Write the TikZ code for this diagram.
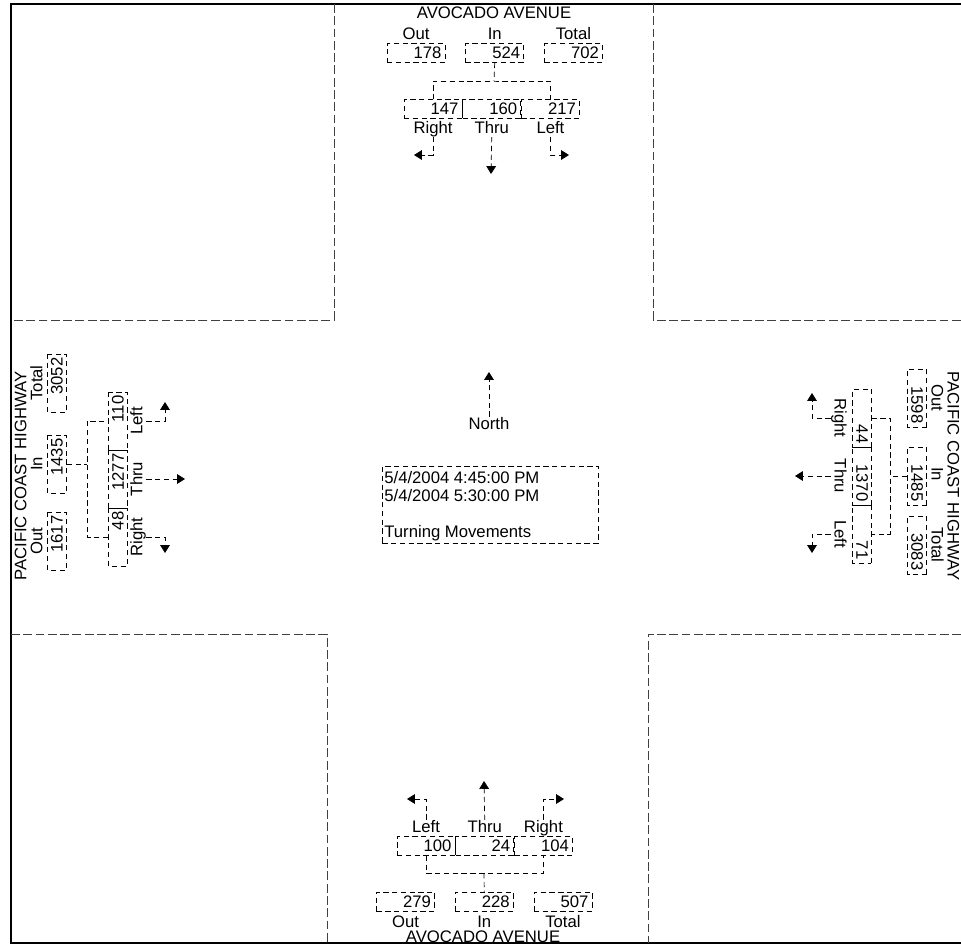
\documentclass[tikz,border=0pt]{standalone}
\usepackage{fontspec}
\setmainfont{Liberation Sans}
\usetikzlibrary{arrows.meta,positioning}
\begin{document}
\begin{tikzpicture}[x=0.02cm,y=-0.02cm,font=\fontsize{9.5}{11}\selectfont,
  box/.style={draw,densely dashed,inner sep=2pt,text width=1.02cm,align=right,minimum height=0.38cm},
  cell/.style={box,minimum height=0.36cm},
  lbl/.style={inner sep=0pt,text height=7pt,text depth=2pt},
  wire/.style={densely dashed},
  mv/.style={wire,-{Triangle[length=4.5pt,width=5.5pt]}},
  road/.style={dash pattern=on 5pt off 2pt,black!75},
  frame/.style={line width=1.4pt}]
\useasboundingbox (0,0) rectangle (961,947);
\draw[frame] (961,4) -- (11,4) -- (11,943) -- (961,943);
\draw[road] (334,4) -- (334,320) -- (11,320);
\draw[road] (653,4) -- (653,320) -- (961,320);
\draw[road] (11,634) -- (327,634) -- (327,943);
\draw[road] (961,634) -- (648,634) -- (648,943);

% north approach
\node[lbl] (nName) at (494,14) {AVOCADO AVENUE};
\node[box] (nOut) at (416,53) {178};
\node[box,right=0.4cm of nOut] (nIn) {524};
\node[box,right=0.4cm of nIn] (nTot) {702};
\node[lbl,above=0pt of nOut] (nOutl) {Out};
\node[lbl,above=0pt of nIn] (nInl) {In};
\node[lbl,above=0pt of nTot] (nTotl) {Total};
\node[cell] (nR) at (433,109) {147};
\node[cell,right=0pt of nR] (nT) {160};
\node[cell,right=0pt of nT] (nL) {217};
\node[lbl,below=1pt of nR] (nRl) {Right};
\node[lbl,below=1pt of nT] (nTl) {Thru};
\node[lbl,below=1pt of nL] (nLl) {Left};
\coordinate (nBar) at (494,81);
\coordinate (nRtip) at (414,155);
\coordinate (nTtip) at (491,174);
\coordinate (nLtip) at (569,155);
\draw[wire] (nIn.south) -- (nBar); \draw[wire] (nR.north) |- (nBar) -| (nL.north);
\draw[mv] (nRl.south) |- (nRtip); \draw[mv] (nTl.south) -- (nTtip); \draw[mv] (nLl.south) |- (nLtip);

% south approach
\node[cell] (sL) at (426,846) {100};
\node[cell,right=0pt of sL] (sT) {24};
\node[cell,right=0pt of sT] (sR) {104};
\node[lbl,above=0pt of sL] (sLl) {Left};
\node[lbl,above=0pt of sT] (sTl) {Thru};
\node[lbl,above=0pt of sR] (sRl) {Right};
\node[box] (sOut) at (405.5,901.5) {279};
\node[box,right=0.4cm of sOut] (sIn) {228};
\node[box,right=0.4cm of sIn] (sTot) {507};
\node[lbl,below=2pt of sOut] (sOutl) {Out};
\node[lbl,below=2pt of sIn] (sInl) {In};
\node[lbl,below=2pt of sTot] (sTotl) {Total};
\node[lbl] (sName) at (483,938) {AVOCADO AVENUE};
\coordinate (sBar) at (484,873);
\coordinate (sLtip) at (407,799);
\coordinate (sTtip) at (484,781);
\coordinate (sRtip) at (564,799);
\draw[wire] (sL.south) |- (sBar) -| (sR.south); \draw[wire] (sBar) -- (sIn.north);
\draw[mv] (sLl.north) |- (sLtip); \draw[mv] (sTl.north) -- (sTtip); \draw[mv] (sRl.north) |- (sRtip);

% west approach
\node[lbl,rotate=90] (wName) at (22,476) {PACIFIC COAST HIGHWAY};
\node[lbl,rotate=90] (wOutl) at (38,541) {Out};
\node[lbl,rotate=90] (wInl) at (38,464) {In};
\node[lbl,rotate=90] (wTotl) at (38,383) {Total};
\node[box,rotate=90] (wOut) at (57,541) {1617};
\node[box,rotate=90] (wIn) at (57,464) {1435};
\node[box,rotate=90] (wTot) at (57,383) {3052};
\node[cell,rotate=90] (wL) at (118,421) {110};
\node[cell,rotate=90] (wT) at (118,479) {1277};
\node[cell,rotate=90] (wR) at (118,537) {48};
\node[lbl,rotate=90] (wLl) at (138,421) {Left};
\node[lbl,rotate=90] (wTl) at (138,479) {Thru};
\node[lbl,rotate=90] (wRl) at (138,537) {Right};
\coordinate (wBar) at (87,464);
\coordinate (wLtip) at (165,402);
\coordinate (wTtip) at (185,479);
\coordinate (wRtip) at (165,553);
\draw[wire] (wIn.south) -- (wBar); \draw[wire] (wR.north) -| (wBar) |- (wL.north);
\draw[mv] (wLl.south) -| (wLtip); \draw[mv] (wTl.south) -- (wTtip); \draw[mv] (wRl.south) -| (wRtip);

% east approach
\node[lbl,rotate=-90] (eName) at (952,476) {PACIFIC COAST HIGHWAY};
\node[lbl,rotate=-90] (eOutl) at (936,398) {Out};
\node[lbl,rotate=-90] (eInl) at (936,474) {In};
\node[lbl,rotate=-90] (eTotl) at (936,545) {Total};
\node[box,rotate=-90] (eOut) at (917,398) {1598};
\node[box,rotate=-90] (eIn) at (917,476) {1485};
\node[box,rotate=-90] (eTot) at (917,545) {3083};
\node[cell,rotate=-90] (eR) at (862,418) {44};
\node[cell,rotate=-90] (eT) at (862,476) {1370};
\node[cell,rotate=-90] (eL) at (862,534) {71};
\node[lbl,rotate=-90] (eRl) at (839,418) {Right};
\node[lbl,rotate=-90] (eTl) at (839,476) {Thru};
\node[lbl,rotate=-90] (eLl) at (839,534) {Left};
\coordinate (eBar) at (890,476);
\coordinate (eRtip) at (812,393);
\coordinate (eTtip) at (795,476);
\coordinate (eLtip) at (812,553);
\draw[wire] (eIn.south) -- (eBar); \draw[wire] (eR.north) -| (eBar) |- (eL.north);
\draw[mv] (eRl.south) -| (eRtip); \draw[mv] (eTl.south) -- (eTtip); \draw[mv] (eLl.south) -| (eLtip);

% centre
\node[lbl] (north) at (489,425) {North};
\coordinate (northTip) at (489,372);
\draw[mv] (north.north) -- (northTip);
\node[draw,densely dashed,minimum width=4.32cm,minimum height=1.54cm,anchor=north west] (period) at (382,466) {};
\node[anchor=base west,inner sep=0pt] (tFrom) at (384,483) {5/4/2004 4:45:00 PM};
\node[anchor=base west,inner sep=0pt] (tTo) at (384,501) {5/4/2004 5:30:00 PM};
\node[anchor=base west,inner sep=0pt] (tKind) at (384,537) {Turning Movements};
\end{tikzpicture}
\end{document}
